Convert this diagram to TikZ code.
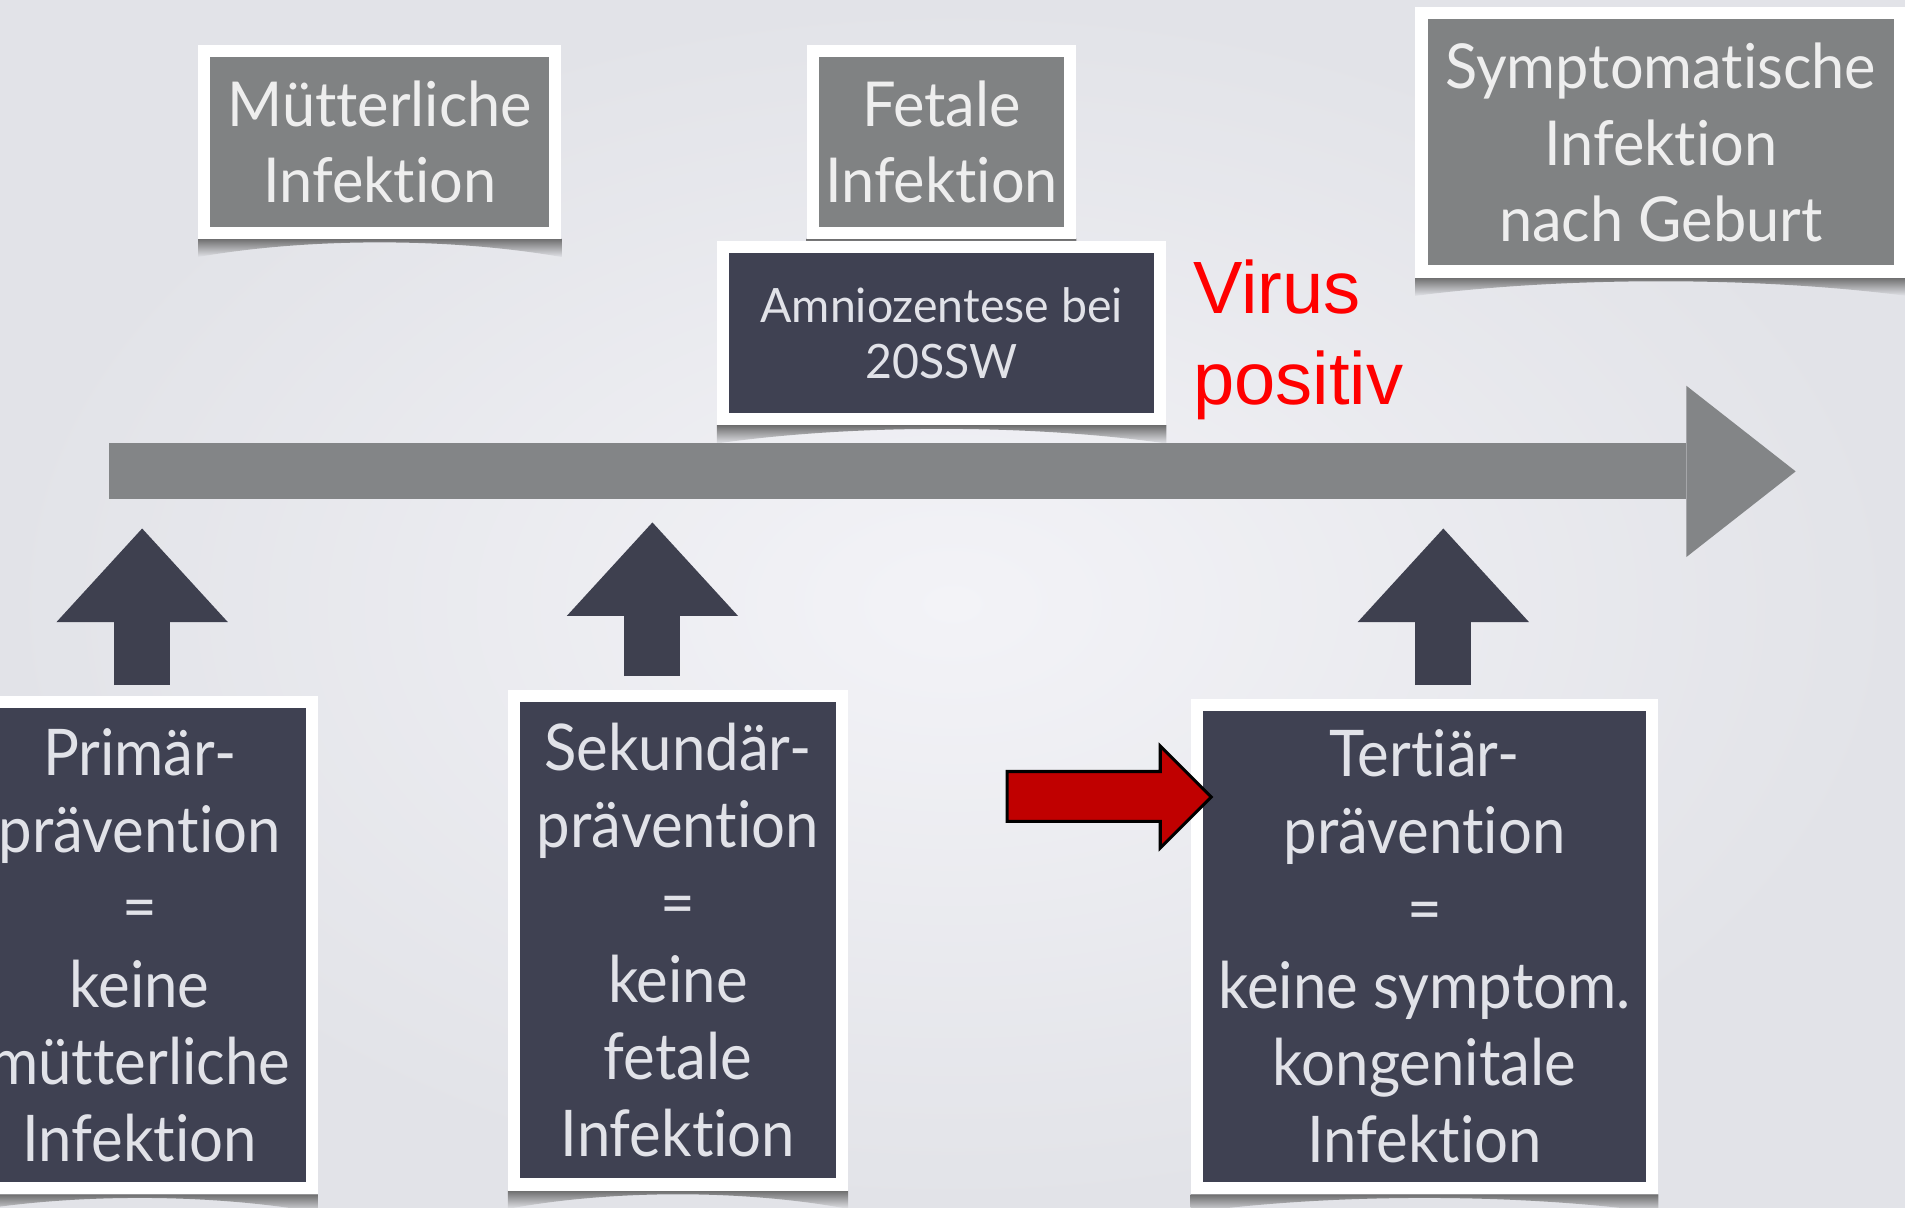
\documentclass[tikz,border=0pt]{standalone}
\usepackage{fontspec}
\setmainfont{Lato}
\newfontfamily\gilltop[FakeStretch=0.96,Ligatures=NoCommon]{Lato}
\newfontfamily\gillbox[FakeStretch=0.93,Ligatures=NoCommon]{Lato}
\newfontfamily\gillsmall[FakeStretch=0.98,Ligatures=NoCommon]{Lato}
\newfontfamily\arialfont{Liberation Sans}
\usepackage{xcolor}
\usetikzlibrary{calc,positioning,arrows.meta}

\definecolor{bgin}{RGB}{243,243,247}
\definecolor{bgout}{RGB}{226,227,232}
\definecolor{boxgray}{RGB}{128,130,131}
\definecolor{boxdark}{RGB}{63,65,82}
\definecolor{arrowgray}{RGB}{131,133,135}
\definecolor{arrowdark}{RGB}{62,64,79}
\definecolor{arrowred}{RGB}{192,0,0}
\definecolor{txtgray}{RGB}{238,238,238}
\definecolor{txtdark}{RGB}{225,226,232}

\pgfdeclarelayer{bg}
\pgfdeclarelayer{shadow}
\pgfsetlayers{bg,shadow,main}

\begin{document}
\begin{tikzpicture}[x=1pt,y=-1pt,
    frame/.style={draw=white,line width=10pt,inner sep=0pt,outer sep=0pt,align=center},
    graybox/.style={frame,fill=boxgray,text=txtgray,font=\gilltop\fontsize{51}{63}\selectfont},
    darkbox/.style={frame,fill=boxdark,text=txtdark,font=\gillbox\fontsize{53}{63.6}\selectfont},
    uparrow/.style={draw=arrowdark,line width=46pt,-{Triangle[width=141pt,length=77pt,line width=0pt]}},
    timeline/.style={draw=arrowgray,line width=46pt,-{Triangle[width=141pt,length=90pt,line width=0pt]}},
    boxshadow/.style={top color=black!60,bottom color=bgout},
    redarrow/.style={fill=arrowred,draw=black,line width=2.5pt,line join=miter},
    virus/.style={text=red,font=\arialfont\fontsize{61}{75}\selectfont,align=left,inner sep=0pt}]
      \useasboundingbox (0,0) rectangle (1568,994);

      % stages above the time line
      \node[graybox,minimum width=289pt,minimum height=149.5pt] (mut) at (312.5,116.75) {Mütterliche\\Infektion};
      \node[graybox,minimum width=212pt,minimum height=149.5pt] (fet) at (775,116.75) {Fetale\\Infektion};
      \node[darkbox,font=\gillsmall\fontsize{39}{46}\selectfont,minimum width=360pt,minimum height=142pt] (amn) at (775,274) {Amniozentese bei\\20SSW};
      \node[graybox,minimum width=394pt,minimum height=212.5pt] (sym) at (1367,117.25) {Symptomatische\\Infektion\\nach Geburt};
      \node[virus,anchor=west] (vir) at (982,280) {Virus\\positiv};

      % time line
      \coordinate (tl0) at (90,388);
      \coordinate (tl1) at (1478,388);
      \draw[timeline] (tl0) -- (tl1);

      % prevention boxes
      \node[darkbox,minimum width=284pt,minimum height=400pt] (pri) at (115,778) {Primär-\\prävention\\=\\keine\\mütterliche\\Infektion};
      \node[darkbox,minimum width=270pt,minimum height=402pt] (sek) at (558,774) {Sekundär-\\prävention\\=\\keine\\fetale\\Infektion};
      \node[darkbox,minimum width=375pt,minimum height=398pt] (ter) at (1172.5,779) {Tertiär-\\prävention\\=\\keine symptom.\\kongenitale\\Infektion};

      \draw[uparrow] ([xshift=2pt,yshift=14pt]pri.north) -- ++(0,-129);
      \draw[uparrow] ([xshift=-21pt,yshift=16.5pt]sek.north) -- ++(0,-126.5);
      \draw[uparrow] ([xshift=15.5pt,yshift=16pt]ter.north) -- ++(0,-129);

      \coordinate (redtip) at ([xshift=12pt,yshift=123pt]ter.west);
      \draw[redarrow] (redtip) -- ++(-42,-42) -- ++(0,21) -- ++(-126,0) -- ++(0,41) -- ++(126,0) -- ++(0,22) -- cycle;

      \begin{pgfonlayer}{shadow}
        \foreach \n in {mut,fet,amn,sym,pri,sek,ter}
          \shade[boxshadow] ($(\n.south west)+(-5,5)$) -- ($(\n.south east)+(5,5)$) -- ++(0,15)
            .. controls ($(\n.south east)!0.3!(\n.south west)+(0,4)$) and ($(\n.south west)!0.3!(\n.south east)+(0,4)$) .. ($(\n.south west)+(-5,20)$) -- cycle;
      \end{pgfonlayer}
      \begin{pgfonlayer}{bg}
        \shade[inner color=bgin,outer color=bgout] (0,0) rectangle (1568,994);
      \end{pgfonlayer}
     \end{tikzpicture}
\end{document}
